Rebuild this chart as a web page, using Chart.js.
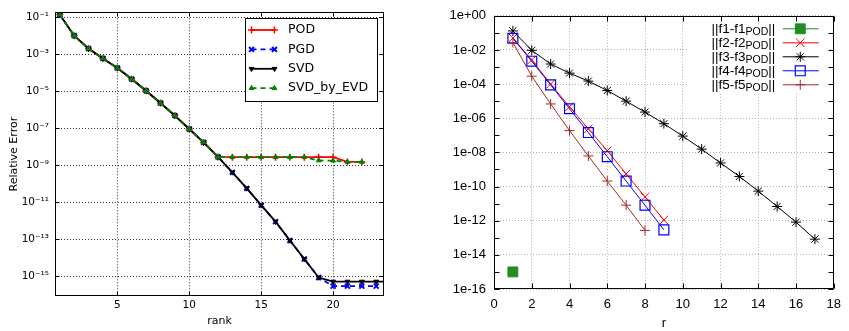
<!DOCTYPE html>
<html>
<head>
<meta charset="utf-8">
<script src="https://cdn.jsdelivr.net/npm/chart.js"></script>
<style>
  body { margin: 0; background: #fff; }
  #left { position: absolute; left: 0; top: 0; }
  #right { position: absolute; left: 420px; top: 0; }
</style>
</head>
<body>
<canvas id="left" width="420" height="331"></canvas>
<canvas id="right" width="429" height="331"></canvas>
<script>
// ---- left plot: relative error vs rank ----
const rank = [1, 2, 3, 4, 5, 6, 7, 8, 9, 10, 11, 12, 13, 14, 15, 16, 17, 18, 19, 20, 21, 22, 23, 24];
const podErr = [1.39e-1, 1.0e-2, 2.0e-3, 5.9e-4, 1.8e-4, 4.5e-5, 1.05e-5, 2.3e-6, 4.8e-7, 9.0e-8, 1.7e-8, 2.8e-9,
  2.7e-9, 2.7e-9, 2.7e-9, 2.7e-9, 2.7e-9, 2.7e-9, 2.7e-9, 2.7e-9, 1.5e-9, 1.5e-9];
const pgdErr = [1.39e-1, 1.0e-2, 2.0e-3, 5.9e-4, 1.8e-4, 4.5e-5, 1.05e-5, 2.3e-6, 4.8e-7, 9.0e-8, 1.7e-8, 2.8e-9,
  4.1e-10, 5.6e-11, 6.9e-12, 8.9e-13, 8.5e-14, 8.5e-15, 8.5e-16, 2.9e-16, 2.9e-16, 2.9e-16, 2.9e-16];
const svdErr = [1.39e-1, 1.0e-2, 2.0e-3, 5.9e-4, 1.8e-4, 4.5e-5, 1.05e-5, 2.3e-6, 4.8e-7, 9.0e-8, 1.7e-8, 2.8e-9,
  4.1e-10, 5.6e-11, 6.9e-12, 8.9e-13, 8.5e-14, 8.5e-15, 8.5e-16, 5.1e-16, 5.1e-16, 5.1e-16, 5.1e-16, 5.1e-16];
const evdErr = [1.39e-1, 1.0e-2, 2.0e-3, 5.9e-4, 1.8e-4, 4.5e-5, 1.05e-5, 2.3e-6, 4.8e-7, 9.0e-8, 1.7e-8, 2.8e-9,
  2.7e-9, 2.7e-9, 2.7e-9, 2.7e-9, 2.7e-9, 2.7e-9, 1.8e-9, 1.75e-9, 1.5e-9, 1.5e-9];
const leftXTicks = [5, 10, 15, 20];
const leftYExps = [-1, -3, -5, -7, -9, -11, -13, -15];

// ---- right plot: ||fi - fi_POD|| vs r ----
const r = [1, 2, 3, 4, 5, 6, 7, 8, 9, 10, 11, 12, 13, 14, 15, 16, 17];
const f1Err = [1e-15];
const f2Err = [5.0e-2, 2.6e-3, 1.0e-4, 4.7e-6, 2.4e-7, 1.25e-8, 5.5e-10, 2.5e-11, 1.1e-12];
const f3Err = [1.3e-1, 9.5e-3, 1.5e-3, 4.4e-4, 1.5e-4, 4.2e-5, 1.0e-5, 2.3e-6, 4.8e-7, 9.0e-8, 1.55e-8, 2.4e-9,
  3.9e-10, 5.4e-11, 6.8e-12, 8.2e-13, 8.3e-14];
const f4Err = [4.8e-2, 2.2e-3, 9.0e-5, 3.6e-6, 1.45e-7, 5.6e-9, 2.1e-10, 8.1e-12, 2.9e-13];
const f5Err = [2.7e-2, 2.9e-4, 6.9e-6, 1.9e-7, 6.2e-9, 2.1e-10, 8.1e-12, 2.7e-13];
const rightNames = ['f1', 'f2', 'f3', 'f4', 'f5'];
const rightYExps = [0, -1, -2, -3, -4, -5, -6, -7, -8, -9, -10, -11, -12, -13, -14, -15, -16];

const pts = (xs, ys) => ys.map((y, i) => ({x: xs[i], y: y}));
const expOf = v => Math.round(Math.log10(v));
const SUP = {'-': '\u207B', '0': '\u2070', '1': '\u00B9', '2': '\u00B2', '3': '\u00B3', '4': '\u2074',
  '5': '\u2075', '6': '\u2076', '7': '\u2077', '8': '\u2078', '9': '\u2079'};
const sup = n => String(n).split('').map(c => SUP[c]).join('');

// box around plot area with inward tick marks
const frame = {
  id: 'frame',
  afterDraw(chart, args, opts) {
    const {ctx, chartArea: a, scales} = chart;
    const L = Math.round(a.left) + 0.5, R = Math.round(a.right) - 0.5;
    const T = Math.round(a.top) + 0.5, B = Math.round(a.bottom) - 0.5;
    ctx.save();
    ctx.strokeStyle = '#000';
    ctx.lineWidth = opts.width || 1;
    ctx.beginPath();
    scales.x.ticks.forEach(t => {
      const px = Math.round(scales.x.getPixelForValue(t.value)) + 0.5;
      ctx.moveTo(px, B); ctx.lineTo(px, B - opts.tick);
      ctx.moveTo(px, T); ctx.lineTo(px, T + opts.tick);
    });
    scales.y.ticks.forEach(t => {
      const py = Math.round(scales.y.getPixelForValue(t.value)) + 0.5;
      ctx.moveTo(L, py); ctx.lineTo(L + opts.tick, py);
      ctx.moveTo(R, py); ctx.lineTo(R - opts.tick, py);
    });
    ctx.stroke();
    ctx.strokeRect(L, T, R - L, B - T);
    ctx.restore();
  }
};

function marker(ctx, ds, x, y) {
  ctx.setLineDash([]);
  ctx.strokeStyle = ds.borderColor;
  ctx.fillStyle = ds.pointBackgroundColor || ds.borderColor;
  ctx.lineWidth = ds.pointBorderWidth;
  Chart.helpers.drawPoint(ctx, {
    pointStyle: ds.pointStyle, radius: ds.pointRadius,
    rotation: ds.pointRotation || 0, borderWidth: ds.pointBorderWidth
  }, x, y);
}

// matplotlib style legend, upper right with a box
const boxLegend = {
  id: 'boxLegend',
  afterDatasetsDraw(chart) {
    const {ctx, chartArea: a} = chart;
    const x0 = Math.round(a.right - 139) + 0.5, y0 = Math.round(a.top + 6) + 0.5, w = 132, h = 83;
    ctx.save();
    ctx.fillStyle = '#fff';
    ctx.fillRect(x0, y0, w, h);
    ctx.strokeStyle = '#000';
    ctx.lineWidth = 1;
    ctx.strokeRect(x0, y0, w, h);
    chart.data.datasets.forEach((ds, i) => {
      const y = y0 + 11.5 + i * 19.4;
      ctx.strokeStyle = ds.borderColor;
      ctx.lineWidth = ds.borderWidth;
      ctx.setLineDash(ds.borderDash || []);
      ctx.beginPath();
      ctx.moveTo(x0 + 6, y); ctx.lineTo(x0 + 29, y);
      ctx.stroke();
      marker(ctx, ds, x0 + 6, y);
      marker(ctx, ds, x0 + 29, y);
      ctx.fillStyle = '#000';
      ctx.font = '12.5px "DejaVu Sans"';
      ctx.textBaseline = 'middle';
      ctx.textAlign = 'left';
      ctx.fillText(ds.label, x0 + 42.5, y);
    });
    ctx.restore();
  }
};

// gnuplot style key: text right aligned, sample line to the right
const keyLegend = {
  id: 'keyLegend',
  afterDatasetsDraw(chart) {
    const {ctx, chartArea: a} = chart;
    ctx.save();
    ctx.fillStyle = '#fff';
    ctx.fillRect(a.right - 146, a.top + 1, 142, 76);
    chart.data.datasets.forEach((ds, i) => {
      const y = a.top + 13 + i * 14;
      const main = '||' + rightNames[i] + '-' + rightNames[i];
      ctx.textBaseline = 'middle';
      ctx.textAlign = 'left';
      ctx.font = '13.5px "Liberation Sans"';
      const w1 = ctx.measureText(main).width, w3 = ctx.measureText('||').width;
      ctx.font = '10.5px "Liberation Sans"';
      const w2 = ctx.measureText('POD').width;
      let x = a.right - 58.5 - (w1 + w2 + w3);
      ctx.fillStyle = '#000';
      ctx.font = '13.5px "Liberation Sans"';
      ctx.fillText(main, x, y);
      x += w1;
      ctx.font = '10.5px "Liberation Sans"';
      ctx.fillText('POD', x, y + 3.5);
      x += w2;
      ctx.font = '13.5px "Liberation Sans"';
      ctx.fillText('||', x, y);
      ctx.strokeStyle = ds.borderColor;
      ctx.lineWidth = ds.borderWidth;
      ctx.beginPath();
      ctx.moveTo(a.right - 51, y); ctx.lineTo(a.right - 15, y);
      ctx.stroke();
      marker(ctx, ds, a.right - 33.5, y);
    });
    ctx.restore();
  }
};

new Chart(document.getElementById('left'), {
  type: 'line',
  data: {
    datasets: [
      { label: 'POD', data: pts(rank, podErr), borderColor: '#ff0000', borderWidth: 1.8,
        pointStyle: 'cross', pointRadius: 3.5, pointBorderWidth: 1.5, order: 4 },
      { label: 'PGD', data: pts(rank, pgdErr), borderColor: '#0000ff', borderWidth: 1.8, borderDash: [5, 4],
        pointStyle: 'crossRot', pointRadius: 3.5, pointBorderWidth: 2, order: 3 },
      { label: 'SVD', data: pts(rank, svdErr), borderColor: '#000000', borderWidth: 1.8,
        pointStyle: 'triangle', pointRotation: 180, pointRadius: 2.8, pointBorderWidth: 1,
        pointBackgroundColor: '#000000', order: 2 },
      { label: 'SVD_by_EVD', data: pts(rank, evdErr), borderColor: '#008000', borderWidth: 1.8, borderDash: [5, 4],
        pointStyle: 'triangle', pointRadius: 2.8, pointBorderWidth: 1,
        pointBackgroundColor: '#008000', order: 1 }
    ]
  },
  options: {
    responsive: false,
    animation: false,
    devicePixelRatio: 1,
    elements: { line: { tension: 0, fill: false } },
    layout: { padding: { left: 0, right: 36, top: 5, bottom: 0 } },
    plugins: { legend: { display: false }, tooltip: { enabled: false }, frame: { tick: 4 } },
    scales: {
      x: {
        type: 'linear', min: 0.67, max: 23.54,
        afterBuildTicks: s => { s.ticks = leftXTicks.map(v => ({value: v})); },
        afterFit: s => { s.height = 35; },
        grid: { color: '#000', lineWidth: 0.8, drawTicks: false },
        border: { display: false, dash: [1, 2] },
        ticks: { color: '#000', padding: 3, font: { family: 'DejaVu Sans', size: 10.5 } },
        title: { display: true, text: 'rank', color: '#000', padding: { top: 0, bottom: 3.5 },
          font: { family: 'DejaVu Sans', size: 11 } }
      },
      y: {
        type: 'logarithmic', min: 8.5e-17, max: 1.83e-1,
        afterBuildTicks: s => { s.ticks = leftYExps.map(e => ({value: Math.pow(10, e)})); },
        afterFit: s => { s.width = 55; },
        grid: { color: '#000', lineWidth: 0.8, drawTicks: false },
        border: { display: false, dash: [1, 2] },
        ticks: { color: '#000', padding: 6, font: { family: 'DejaVu Sans', size: 10.5 },
          callback: v => '10' + sup(expOf(v)) },
        title: { display: true, text: 'Relative Error', color: '#000', padding: { top: 7.5, bottom: 0 },
          font: { family: 'DejaVu Sans', size: 11 } }
      }
    }
  },
  plugins: [boxLegend, frame]
});

new Chart(document.getElementById('right'), {
  type: 'line',
  data: {
    datasets: [
      { label: 'f1', data: pts(r, f1Err), borderColor: '#228b22', borderWidth: 1,
        pointStyle: 'rect', pointRadius: 7, pointBorderWidth: 1, pointBackgroundColor: '#228b22', order: 5 },
      { label: 'f2', data: pts(r, f2Err), borderColor: '#ff0000', borderWidth: 1,
        pointStyle: 'crossRot', pointRadius: 6, pointBorderWidth: 1, order: 4 },
      { label: 'f3', data: pts(r, f3Err), borderColor: '#000000', borderWidth: 1,
        pointStyle: 'star', pointRadius: 5, pointBorderWidth: 1, order: 3 },
      { label: 'f4', data: pts(r, f4Err), borderColor: '#0000ff', borderWidth: 1,
        pointStyle: 'rect', pointRadius: 7, pointBorderWidth: 1.2, pointBackgroundColor: 'rgba(0,0,0,0)', order: 2 },
      { label: 'f5', data: pts(r, f5Err), borderColor: '#a52a2a', borderWidth: 1,
        pointStyle: 'cross', pointRadius: 5, pointBorderWidth: 1, order: 1 }
    ]
  },
  options: {
    responsive: false,
    animation: false,
    devicePixelRatio: 1,
    elements: { line: { tension: 0, fill: false } },
    layout: { padding: { left: 0, right: 10, top: 9, bottom: 0 } },
    plugins: { legend: { display: false }, tooltip: { enabled: false }, frame: { tick: 5 } },
    scales: {
      x: {
        type: 'linear', min: 0, max: 18,
        afterFit: s => { s.height = 42; },
        grid: { color: '#b0b0b0', lineWidth: 1, drawTicks: false },
        border: { display: false, dash: [1, 2] },
        ticks: { stepSize: 2, color: '#000', padding: 8, font: { family: 'Liberation Sans', size: 13 } },
        title: { display: true, text: 'r', color: '#000', padding: { top: 0, bottom: 0 },
          font: { family: 'Liberation Sans', size: 13 } }
      },
      y: {
        type: 'logarithmic', min: 1e-16, max: 1,
        afterBuildTicks: s => { s.ticks = rightYExps.map(e => ({value: Math.pow(10, e)})); },
        afterFit: s => { s.width = 74; },
        grid: { lineWidth: 1, drawTicks: false,
          color: c => (c.tick && expOf(c.tick.value) % 2 === 0) ? '#b0b0b0' : 'rgba(0,0,0,0)' },
        border: { display: false, dash: [1, 2] },
        ticks: { color: '#000', padding: 8, autoSkip: false, font: { family: 'Liberation Sans', size: 13 },
          callback: v => {
            const e = expOf(v);
            if (e % 2 !== 0) return '';
            return '1e' + (e < 0 ? '-' : '+') + String(Math.abs(e)).padStart(2, '0');
          } }
      }
    }
  },
  plugins: [keyLegend, frame]
});
</script>
</body>
</html>
